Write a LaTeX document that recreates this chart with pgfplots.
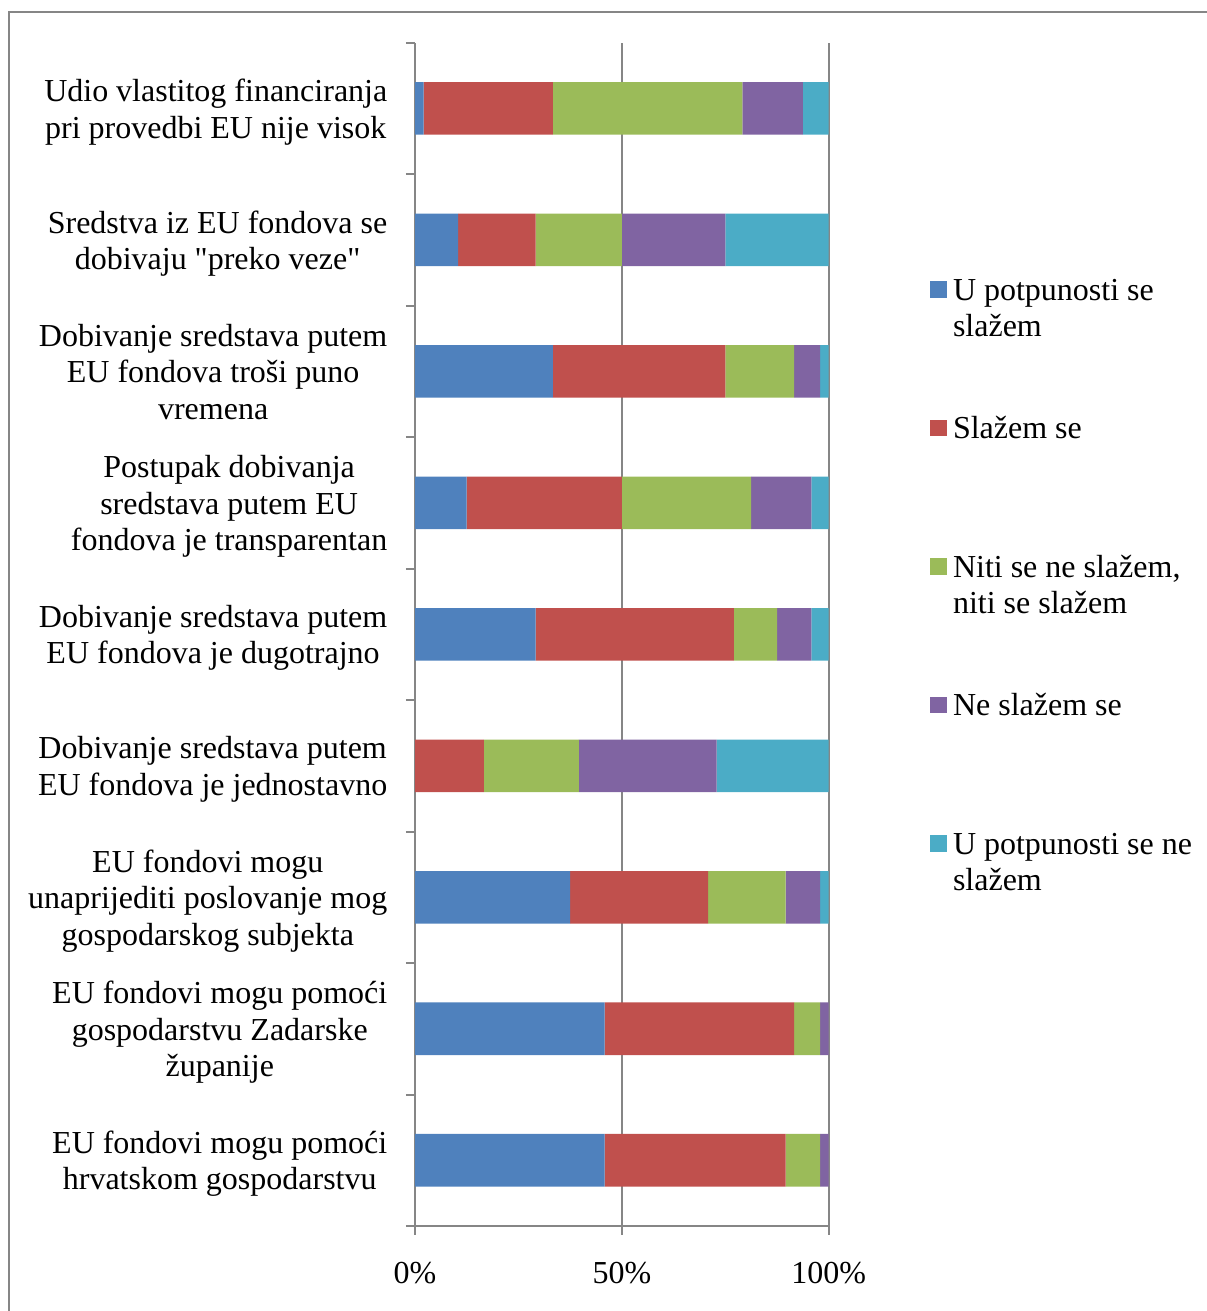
\documentclass[border=0pt]{standalone}
\usepackage{pgfplots}
\pgfplotsset{compat=1.18}
\usepackage{fontspec}
\setmainfont{Liberation Serif}
\definecolor{c1}{HTML}{4F81BD}
\definecolor{c2}{HTML}{C0504D}
\definecolor{c3}{HTML}{9BBB59}
\definecolor{c4}{HTML}{8064A2}
\definecolor{c5}{HTML}{4BACC6}
\definecolor{axgray}{HTML}{868686}
\newcommand{\lblfont}{\fontsize{16pt}{18.3pt}\selectfont}
\newcommand{\legtxt}[1]{\parbox[t]{130pt}{\raggedright #1}}
\begin{document}
\begin{tikzpicture}
\draw[axgray, line width=0.75pt] (4.5pt,-20pt) -- (4.5pt,649.5pt) -- (640pt,649.5pt);
\begin{axis}[
  at={(207.5pt,42.5pt)}, anchor=south west,
  scale only axis, width=206.85pt, height=591.65pt,
  xbar stacked, bar width=0.4,
  xmin=0, xmax=100, ymin=-0.5, ymax=8.5,
  enlargelimits=false,
  axis lines*=left,
  axis line style={axgray, line width=1pt},
  xtick={0,50,100}, xticklabels={0\%,50\%,100\%},
  xmajorgrids, grid style={axgray, line width=1pt},
  ytick={0,1,2,3,4,5,6,7,8},
  yticklabels={
    {EU fondovi mogu pomoći\\hrvatskom gospodarstvu},
    {EU fondovi mogu pomoći\\gospodarstvu Zadarske\\županije},
    {EU fondovi mogu\\unaprijediti poslovanje mog\\gospodarskog subjekta},
    {Dobivanje sredstava putem\\EU fondova je jednostavno},
    {Dobivanje sredstava putem\\EU fondova je dugotrajno},
    {Postupak dobivanja\\sredstava putem EU\\fondova je transparentan},
    {Dobivanje sredstava putem\\EU fondova troši puno\\vremena\vphantom{g}},
    {Sredstva iz EU fondova se\\dobivaju \textquotedbl preko veze\textquotedbl},
    {Udio vlastitog financiranja\\pri provedbi EU nije visok}},
  minor ytick={-0.5,0.5,1.5,2.5,3.5,4.5,5.5,6.5,7.5,8.5},
  tick align=outside,
  major tick length=4.5pt, minor tick length=4.5pt,
  tick style={axgray, line width=1pt},
  major y tick style={draw=none},
  yticklabel style={align=center, font=\lblfont, inner sep=0pt, xshift=-9.15pt, yshift=-1.8pt},
  xticklabel style={font=\lblfont, anchor=base, inner sep=0pt, yshift=-24.5pt},
  legend style={at={(1.2449,0.8028)}, anchor=north west, draw=none, fill=none,
    inner sep=0pt, outer sep=0pt, row sep=17.25pt, column sep=3.2pt, font=\lblfont,
    nodes={inner sep=0pt, text height=12pt, text depth=40pt},
    cells={anchor=base west}},
  legend image code/.code={\fill[#1] (0pt,1.15pt) rectangle (8.3pt,9.5pt);},
]
\addplot[fill=c1, draw=none] coordinates {(45.83,0) (45.83,1) (37.5,2) (0,3) (29.17,4) (12.5,5) (33.33,6) (10.42,7) (2.08,8)};
\addlegendentry{\legtxt{U potpunosti se\\slažem}}
\addplot[fill=c2, draw=none] coordinates {(43.75,0) (45.83,1) (33.33,2) (16.67,3) (47.92,4) (37.5,5) (41.67,6) (18.75,7) (31.25,8)};
\addlegendentry{\legtxt{Slažem se}}
\addplot[fill=c3, draw=none] coordinates {(8.33,0) (6.25,1) (18.75,2) (22.92,3) (10.42,4) (31.25,5) (16.67,6) (20.83,7) (45.83,8)};
\addlegendentry{\legtxt{Niti se ne slažem,\\niti se slažem}}
\addplot[fill=c4, draw=none] coordinates {(2.08,0) (2.08,1) (8.33,2) (33.33,3) (8.33,4) (14.58,5) (6.25,6) (25,7) (14.58,8)};
\addlegendentry{\legtxt{Ne slažem se}}
\addplot[fill=c5, draw=none] coordinates {(0,0) (0,1) (2.08,2) (27.08,3) (4.17,4) (4.17,5) (2.08,6) (25,7) (6.25,8)};
\addlegendentry{\legtxt{U potpunosti se ne\\slažem}}
\end{axis}
\pgfresetboundingbox
\useasboundingbox (0,0) rectangle (603pt,655.5pt);
\end{tikzpicture}
\end{document}
